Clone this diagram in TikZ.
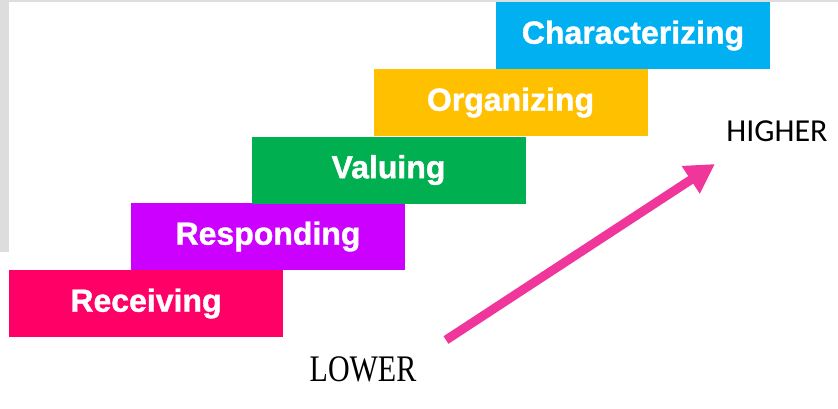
\documentclass[tikz,border=0pt]{standalone}
\usepackage{fontspec}
\setmainfont{Liberation Sans}
\newfontfamily\boxfont{Liberation Sans}[UprightFont=* Bold, FakeBold=1.2]
\newfontfamily\serifx{Liberation Serif}
\newfontfamily\calib{Carlito}
\usetikzlibrary{arrows.meta}
\definecolor{cRec}{HTML}{FF0066}
\definecolor{cRes}{HTML}{CC00FF}
\definecolor{cVal}{HTML}{00B050}
\definecolor{cOrg}{HTML}{FFC000}
\definecolor{cCha}{HTML}{00B0F0}
\definecolor{cArr}{HTML}{F0369B}
\definecolor{cFrame}{HTML}{DDDDDD}
\tikzset{
  stepbox/.style={minimum width=274pt, minimum height=67pt, inner sep=0pt, text=white,
    font=\boxfont\fontsize{32}{32}\selectfont, anchor=center},
}
\begin{document}
\begin{tikzpicture}[x=1pt,y=-1pt]
\useasboundingbox (0,0) rectangle (838,408);
\fill[white] (0,0) rectangle (838,408);
\fill[cFrame] (0,0) rectangle (9,252);
\fill[cFrame] (0,0) rectangle (838,2);
\node[stepbox, fill=cRec] (rec) at (146,303.5) {Receiving};
\node[stepbox, fill=cRes] (res) at (268,236.5) {Responding};
\node[stepbox, fill=cVal] (val) at (388.5,170) {Valuing};
\node[stepbox, fill=cOrg] (org) at (510.5,102.5) {Organizing};
\node[stepbox, fill=cCha] (cha) at (633,35.5) {Characterizing};
\node[font=\calib\fontsize{32}{32}\selectfont, inner sep=0pt] (high) at (777,131) {HIGHER};
\node[font=\serifx\fontsize{30}{30}\selectfont, inner sep=0pt] (low) at (363,369) {\scalebox{1}[1.25]{LOWER}};
\coordinate (lo) at (446,340);
\coordinate (hi) at (715,164);
\draw[cArr, line width=9pt, -{Triangle[length=29pt,width=31pt]}] (lo) -- (hi);
\end{tikzpicture}
\end{document}
